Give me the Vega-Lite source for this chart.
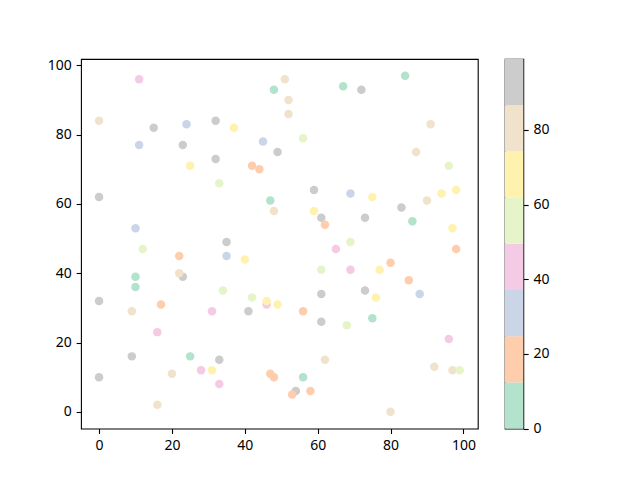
{
  "$schema": "https://vega.github.io/schema/vega-lite/v6.json",
  "background": "white",
  "padding": {"left": 40, "top": 57, "right": 10, "bottom": 10},
  "spacing": 24.8,
  "config": {
    "view": {"stroke": "black", "strokeWidth": 1.1},
    "axis": {
      "grid": false,
      "domain": false,
      "tickColor": "black",
      "tickWidth": 1.1,
      "tickSize": 4.9,
      "labelPadding": 4.9,
      "labelColor": "black",
      "labelFont": "Noto Sans",
      "labelFontSize": 14,
      "title": null
    }
  },
  "datasets": {
    "points": [
      {"x":0,"y":84,"c":80},{"x":0,"y":62,"c":93},{"x":0,"y":32,"c":93},{"x":0,"y":10,"c":93},{"x":11,"y":96,"c":43},
      {"x":11,"y":77,"c":31},{"x":15,"y":82,"c":93},{"x":10,"y":53,"c":31},{"x":12,"y":47,"c":55},{"x":10,"y":39,"c":6},
      {"x":10,"y":36,"c":6},{"x":9,"y":29,"c":80},{"x":9,"y":16,"c":93},{"x":16,"y":2,"c":80},{"x":16,"y":23,"c":43},
      {"x":17,"y":31,"c":18},{"x":20,"y":11,"c":80},{"x":22,"y":45,"c":18},{"x":23,"y":39,"c":93},{"x":22,"y":40,"c":80},
      {"x":23,"y":77,"c":93},{"x":24,"y":83,"c":31},{"x":25,"y":71,"c":68},{"x":25,"y":16,"c":6},{"x":28,"y":12,"c":43},
      {"x":31,"y":29,"c":43},{"x":31,"y":12,"c":68},{"x":32,"y":84,"c":93},{"x":32,"y":73,"c":93},{"x":33,"y":66,"c":55},
      {"x":33,"y":15,"c":93},{"x":33,"y":8,"c":43},{"x":34,"y":35,"c":55},{"x":35,"y":49,"c":93},{"x":35,"y":45,"c":31},
      {"x":37,"y":82,"c":68},{"x":40,"y":44,"c":68},{"x":41,"y":29,"c":93},{"x":42,"y":71,"c":18},{"x":42,"y":33,"c":55},
      {"x":44,"y":70,"c":18},{"x":45,"y":78,"c":31},{"x":47,"y":61,"c":6},{"x":46,"y":31,"c":43},{"x":46,"y":32,"c":68},
      {"x":47,"y":11,"c":18},{"x":48,"y":10,"c":18},{"x":48,"y":93,"c":6},{"x":48,"y":58,"c":80},{"x":49,"y":75,"c":93},
      {"x":49,"y":31,"c":68},{"x":51,"y":96,"c":80},{"x":52,"y":90,"c":80},{"x":52,"y":86,"c":80},{"x":54,"y":6,"c":93},
      {"x":53,"y":5,"c":18},{"x":56,"y":79,"c":55},{"x":56,"y":29,"c":18},{"x":56,"y":10,"c":6},{"x":58,"y":6,"c":18},
      {"x":59,"y":64,"c":93},{"x":59,"y":58,"c":68},{"x":61,"y":56,"c":93},{"x":61,"y":41,"c":55},{"x":61,"y":34,"c":93},
      {"x":61,"y":26,"c":93},{"x":62,"y":54,"c":18},{"x":62,"y":15,"c":80},{"x":65,"y":47,"c":43},{"x":67,"y":94,"c":6},
      {"x":68,"y":25,"c":55},{"x":69,"y":63,"c":31},{"x":69,"y":49,"c":55},{"x":69,"y":41,"c":43},{"x":72,"y":93,"c":93},
      {"x":73,"y":56,"c":93},{"x":73,"y":35,"c":93},{"x":75,"y":62,"c":68},{"x":75,"y":27,"c":6},{"x":76,"y":33,"c":68},
      {"x":77,"y":41,"c":68},{"x":80,"y":43,"c":18},{"x":80,"y":0,"c":80},{"x":83,"y":59,"c":93},{"x":84,"y":97,"c":6},
      {"x":85,"y":38,"c":18},{"x":86,"y":55,"c":6},{"x":87,"y":75,"c":80},{"x":88,"y":34,"c":31},{"x":90,"y":61,"c":80},
      {"x":91,"y":83,"c":80},{"x":92,"y":13,"c":80},{"x":94,"y":63,"c":68},{"x":96,"y":71,"c":55},{"x":96,"y":21,"c":43},
      {"x":97,"y":53,"c":68},{"x":97,"y":12,"c":80},{"x":98,"y":64,"c":68},{"x":98,"y":47,"c":18},{"x":99,"y":12,"c":55}
    ],
    "bins": [
      {"lo":0,"hi":12.375,"mid":6},
      {"lo":12.375,"hi":24.75,"mid":18},
      {"lo":24.75,"hi":37.125,"mid":31},
      {"lo":37.125,"hi":49.5,"mid":43},
      {"lo":49.5,"hi":61.875,"mid":55},
      {"lo":61.875,"hi":74.25,"mid":68},
      {"lo":74.25,"hi":86.625,"mid":80},
      {"lo":86.625,"hi":99,"mid":93}
    ]
  },
  "hconcat": [
    {
      "width": 396.8,
      "height": 369.6,
      "data": {"name": "points"},
      "mark": {"type": "circle", "size": 72, "opacity": 1},
      "encoding": {
        "x": {"field": "x", "type": "quantitative",
              "scale": {"domain": [-4.95, 103.95], "nice": false, "zero": false},
              "axis": {"values": [0, 20, 40, 60, 80, 100]}},
        "y": {"field": "y", "type": "quantitative",
              "scale": {"domain": [-4.85, 101.85], "nice": false, "zero": false},
              "axis": {"values": [0, 20, 40, 60, 80, 100], "minExtent": 40, "maxExtent": 40}},
        "color": {"field": "c", "type": "quantitative",
                  "scale": {"type": "quantize", "domain": [0, 99], "nice": false, "zero": false,
                            "range": ["#b3e2cd", "#fdcdac", "#cbd5e8", "#f4cae4", "#e6f5c9", "#fff2ae", "#f1e2cc", "#cccccc"]},
                  "legend": null}
      }
    },
    {
      "width": 18.5,
      "height": 369.6,
      "data": {"name": "bins"},
      "mark": {"type": "rect"},
      "encoding": {
        "y": {"field": "lo", "type": "quantitative",
              "scale": {"domain": [0, 99], "nice": false, "zero": false},
              "axis": {"orient": "right", "values": [0, 20, 40, 60, 80]}},
        "y2": {"field": "hi"},
        "color": {"field": "mid", "type": "quantitative",
                  "scale": {"type": "quantize", "domain": [0, 99], "nice": false, "zero": false,
                            "range": ["#b3e2cd", "#fdcdac", "#cbd5e8", "#f4cae4", "#e6f5c9", "#fff2ae", "#f1e2cc", "#cccccc"]},
                  "legend": null}
      }
    }
  ],
  "resolve": {"scale": {"color": "independent", "y": "independent"}}
}
